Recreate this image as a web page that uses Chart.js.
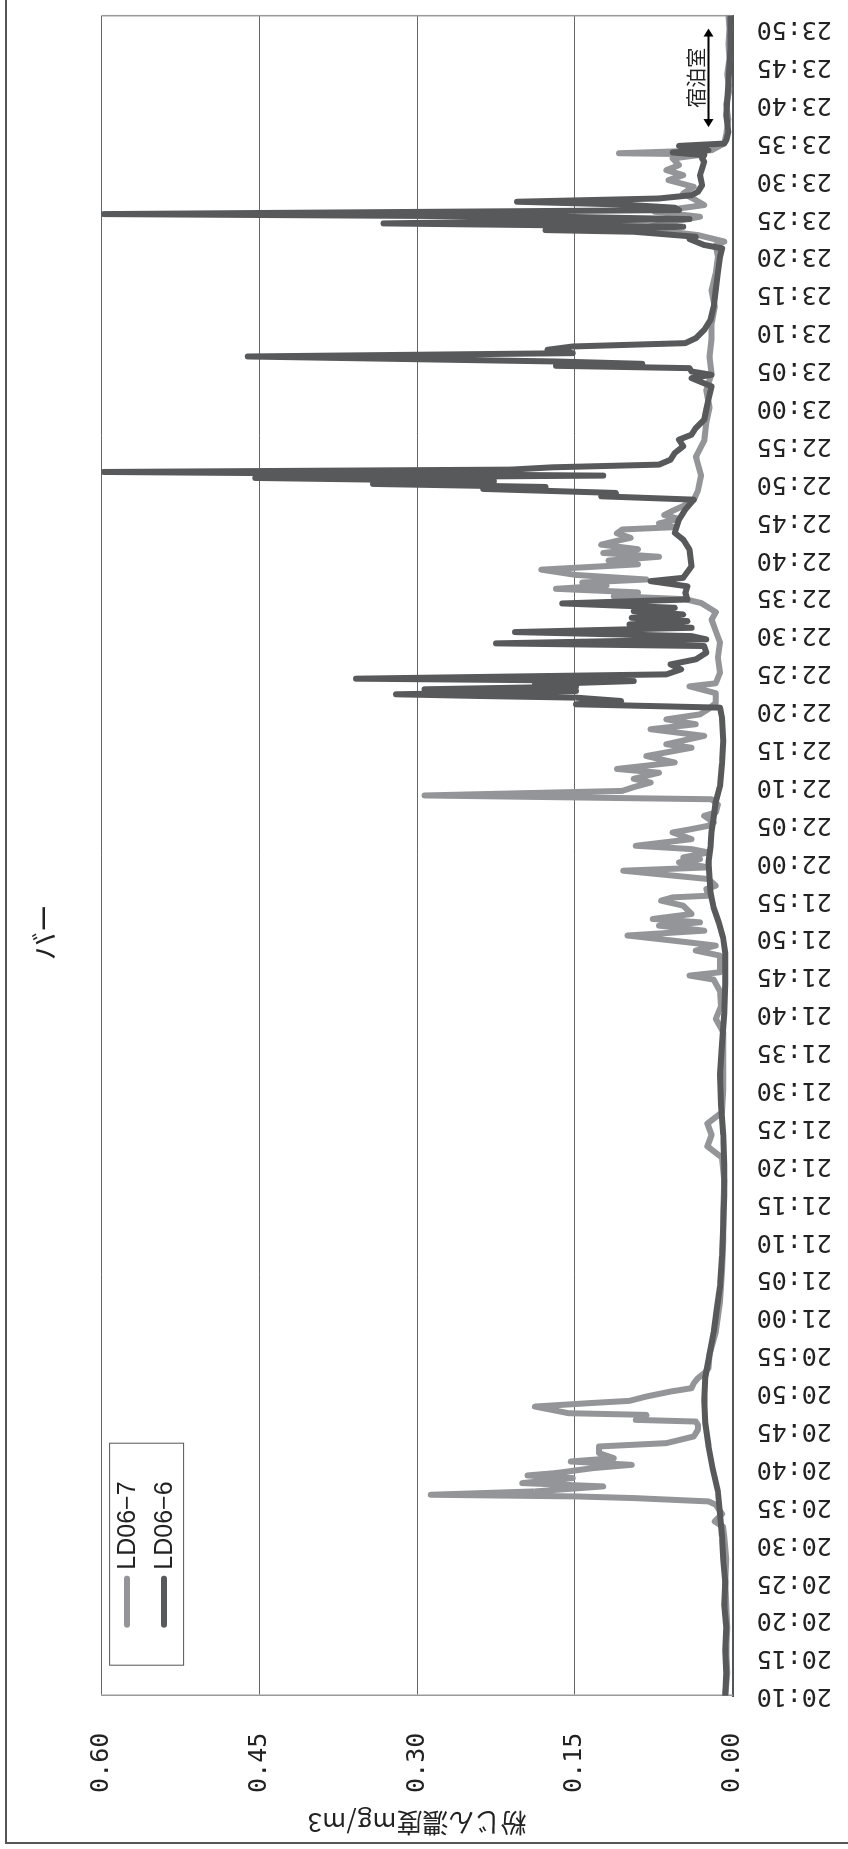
<!DOCTYPE html>
<html lang="ja">
<head>
<meta charset="utf-8">
<title>バー 粉じん濃度</title>
<script src="https://cdn.jsdelivr.net/npm/chart.js@4.4.1/dist/chart.umd.min.js"></script>
<style>
  html, body { margin: 0; padding: 0; overflow: hidden; background: #fff; }
  /* グラフ全体を左に90度回転して縦長で表示 */
  #wrap {
    position: absolute; left: 0; top: 0;
    width: 1849px; height: 848px;
    transform-origin: 0 0;
    transform: translate(0px, 1849px) rotate(-90deg);
  }
  canvas { display: block; }
</style>
</head>
<body>
<div id="wrap"><canvas id="chart" width="1849" height="848"></canvas></div>
<script>
// 横軸ラベル (5分ごと)
const timeLabels = ['20:10','20:15','20:20','20:25','20:30','20:35','20:40','20:45','20:50','20:55',
  '21:00','21:05','21:10','21:15','21:20','21:25','21:30','21:35','21:40','21:45','21:50','21:55',
  '22:00','22:05','22:10','22:15','22:20','22:25','22:30','22:35','22:40','22:45','22:50','22:55',
  '23:00','23:05','23:10','23:15','23:20','23:25','23:30','23:35','23:40','23:45','23:50'];
const axisEnd = 231.7; // 最終データ (20:00 からの分)
const valueTicks = [0, 0.15, 0.30, 0.45, 0.60];

const seriesNames = ['LD06\u22127', 'LD06\u22126'];

// LD06-7 : 20:00 からの経過分 と 濃度 mg/m3
const minutesLD067 = [10,13,16,19,22,25,28,31,32.3,33,34,35.2,35.64,36.08,36.3,36.52,36.96,37.62,38.06,38.72,
  39.07,39.38,40.03,40.47,40.91,41.35,42.01,42.89,43.33,44.21,45.09,45.74,46.18,46.4,47.06,47.28,47.72,48.16,
  48.6,48.91,49.48,50.14,50.58,51.23,51.89,52.55,53.21,55,58,62,66,70,74,78,81,82.5,84,85.5,87,90,94,97.6,
  99.3,101,103,104.5,105.03,105.47,107.67,108.33,108.99,109.43,110.32,110.96,111.62,112.06,112.5,113.16,
  114.26,114.92,115.35,115.57,116.45,116.89,117.77,118.87,119.31,119.97,120.41,120.62,121.28,121.72,122.16,
  123.04,123.92,124.36,124.8,125.24,126.11,126.55,127.6,128.3,128.8,129.4,129.9,130.5,131,131.8,132.3,133.15,
  134,135.1,135.56,136.66,137.54,138.2,138.85,139.5,140.2,141,142.3,143.2,143.6,145,147,149,150.5,152,153,
  154.2,154.7,155.1,155.6,156.07,156.5,156.9,157.3,157.9,158.6,159.3,159.8,160.3,160.8,161.3,161.9,162.4,
  162.8,163.4,163.9,164.2,164.7,165.3,165.8,166.3,167,167.8,169,171,173.5,175.6,178,180,182.3,184.5,186.7,
  189,191,193.3,195.5,197.7,199.9,201.4,201.9,202.75,203.63,204.29,205.17,205.83,206.71,207.37,208.24,209.12,
  210,210.66,211.32,211.98,212.86,213.4,213.55,213.95,214.83,216,218,220,222,224,226,228,230,231.7];
const valuesLD067 = [0.007,0.005,0.006,0.005,0.006,0.007,0.006,0.008,0.009,0.017,0.010,0.016,0.023,0.094,0.150,0.287,
  0.188,0.123,0.200,0.152,0.195,0.168,0.133,0.096,0.154,0.113,0.127,0.127,0.063,0.037,0.033,0.033,0.035,0.092,
  0.082,0.156,0.172,0.188,0.137,0.098,0.082,0.059,0.039,0.037,0.033,0.027,0.023,0.022,0.016,0.012,0.010,0.009,
  0.009,0.008,0.010,0.024,0.020,0.024,0.010,0.009,0.009,0.009,0.016,0.011,0.012,0.018,0.041,0.012,0.012,0.035,
  0.016,0.043,0.100,0.027,0.070,0.031,0.076,0.039,0.047,0.068,0.057,0.023,0.025,0.016,0.023,0.104,0.023,0.051,
  0.031,0.047,0.023,0.039,0.092,0.039,0.057,0.039,0.023,0.018,0.027,0.016,0.014,0.020,0.293,0.105,0.094,0.078,
  0.094,0.070,0.110,0.055,0.082,0.039,0.063,0.027,0.078,0.035,0.063,0.031,0.023,0.016,0.016,0.041,0.016,0.012,
  0.014,0.012,0.016,0.020,0.016,0.030,0.045,0.113,0.090,0.168,0.120,0.143,0.082,0.149,0.182,0.090,0.118,0.070,
  0.123,0.090,0.125,0.110,0.097,0.110,0.105,0.056,0.070,0.051,0.065,0.058,0.047,0.037,0.033,0.030,0.035,0.027,
  0.025,0.022,0.025,0.020,0.022,0.020,0.020,0.017,0.020,0.016,0.014,0.016,0.008,0.033,0.086,0.066,0.031,0.074,
  0.027,0.035,0.047,0.037,0.061,0.047,0.063,0.051,0.057,0.027,0.108,0.020,0.008,0.006,0.004,0.006,0.003,0.005,
  0.003,0.004,0.003,0.004];

// LD06-6 : 20:00 からの経過分 と 濃度 mg/m3
const minutesLD066 = [10,13,16,19,22,25,28,31,34,37,40,43,46,49,52,55,58,61,64,68,72,76,80,84,88,92,96,100,104,108,
  110,112,114,116,118,120,122,124,126,128,130,133,136,139,140.39,140.83,141.27,141.71,141.93,142.15,142.59,
  142.81,143.16,143.47,143.9,144.21,144.78,145.44,146.1,146.76,147.64,148.52,148.87,149.4,149.83,150.36,150.93,
  151.37,151.81,152.25,152.69,153.13,153.57,154.14,154.66,155.54,156.4,157.08,157.52,159.06,161.25,162.57,
  163.45,165.2,166.52,167.84,168.28,168.72,169.25,169.51,169.91,170.26,170.7,171.01,171.49,171.8,172.1,172.46,
  173.11,173.99,174.87,175.75,176.41,177.29,178.38,179.7,181.02,182.78,183.87,184.31,184.75,185.19,185.5,
  185.76,186.07,186.73,187.17,187.61,188.05,188.49,189.14,190.24,191.56,193.32,195.51,197.71,199.9,201,201.44,
  202.23,202.53,203.19,203.41,203.85,204.29,204.86,205.17,205.52,206.05,206.36,206.79,207.15,207.58,208.02,
  208.46,209.34,210.66,211.54,212.42,212.86,213.3,213.65,213.95,214.52,214.83,215.27,216.37,218.56,222.96,
  227.35,231.7];
const valuesLD066 = [0.007,0.006,0.007,0.006,0.008,0.007,0.009,0.010,0.012,0.014,0.019,0.023,0.026,0.027,0.026,0.022,
  0.018,0.015,0.012,0.010,0.009,0.008,0.008,0.009,0.011,0.012,0.010,0.008,0.007,0.007,0.009,0.013,0.018,0.021,
  0.022,0.023,0.021,0.020,0.018,0.016,0.012,0.010,0.009,0.010,0.012,0.149,0.106,0.149,0.242,0.320,0.149,0.293,
  0.149,0.188,0.094,0.358,0.063,0.049,0.059,0.035,0.025,0.027,0.225,0.025,0.039,0.207,0.039,0.098,0.043,0.096,
  0.047,0.094,0.055,0.162,0.043,0.045,0.043,0.078,0.047,0.039,0.041,0.047,0.055,0.051,0.045,0.037,0.125,0.111,
  0.237,0.178,0.342,0.227,0.454,0.123,0.598,0.211,0.172,0.070,0.059,0.055,0.047,0.051,0.039,0.035,0.027,0.025,
  0.023,0.020,0.039,0.020,0.039,0.041,0.168,0.086,0.168,0.461,0.152,0.176,0.152,0.045,0.035,0.027,0.021,0.018,
  0.016,0.014,0.012,0.010,0.027,0.041,0.035,0.094,0.178,0.047,0.332,0.041,0.165,0.598,0.051,0.055,0.106,0.205,
  0.070,0.039,0.033,0.029,0.031,0.029,0.027,0.029,0.027,0.057,0.023,0.051,0.008,0.006,0.004,0.006,0.004,0.002,
  0.002];

// 注記: 宿泊室 (矢印の範囲)
const roomLabel = '宿泊室';
const roomFrom = 217, roomTo = 230, roomLevel = 0.023;

const colorLD067 = '#939598';
const colorLD066 = '#58595b';

function toMinutes(label) {
  const [h, m] = label.split(':').map(Number);
  return (h - 20) * 60 + m;
}
function toLabel(v) {
  const h = 20 + Math.floor(v / 60);
  const m = Math.round(v % 60);
  return h + ':' + String(m).padStart(2, '0');
}
function points(ms, vs) {
  return ms.map((m, i) => ({ x: m, y: vs[i] }));
}

// 外枠・右枠・凡例・矢印
const decor = {
  id: 'decor',
  beforeDraw(chart) {
    const ctx = chart.ctx;
    ctx.save();
    ctx.fillStyle = '#fff';
    ctx.fillRect(0, 0, chart.width, chart.height);
    ctx.strokeStyle = '#555';
    ctx.lineWidth = 2;
    ctx.beginPath();
    ctx.moveTo(6, chart.height + 5);
    ctx.lineTo(6, 6);
    ctx.lineTo(chart.width + 5, 6);
    ctx.stroke();
    ctx.restore();
  },
  beforeDatasetsDraw(chart) {
    const a = chart.chartArea, ctx = chart.ctx;
    ctx.save();
    ctx.strokeStyle = '#999';
    ctx.lineWidth = 1.5;
    ctx.beginPath();
    ctx.moveTo(a.right, a.top);
    ctx.lineTo(a.right, a.bottom);
    ctx.stroke();
    ctx.restore();
  },
  afterDatasetsDraw(chart) {
    const a = chart.chartArea, ctx = chart.ctx;
    const xs = chart.scales.x, ys = chart.scales.y;
    ctx.save();

    // 凡例
    const bx = a.left + 30, by = a.top + 7.5, bw = 222, bh = 74;
    ctx.fillStyle = '#fff';
    ctx.fillRect(bx, by, bw, bh);
    ctx.strokeStyle = '#555';
    ctx.lineWidth = 1;
    ctx.strokeRect(bx + 0.5, by + 0.5, bw, bh);
    ctx.font = '25px "Liberation Sans", Arial, sans-serif';
    ctx.textBaseline = 'middle';
    ctx.textAlign = 'left';
    chart.data.datasets.forEach((ds, i) => {
      const yy = by + 18 + i * 37;
      ctx.strokeStyle = ds.borderColor;
      ctx.lineWidth = 6;
      ctx.lineCap = 'round';
      ctx.beginPath();
      ctx.moveTo(bx + 41, yy);
      ctx.lineTo(bx + 87, yy);
      ctx.stroke();
      ctx.fillStyle = '#222';
      ctx.fillText(ds.label, bx + 96, yy + 1);
    });

    // 宿泊室 矢印
    const x1 = xs.getPixelForValue(roomFrom), x2 = xs.getPixelForValue(roomTo);
    const yy = ys.getPixelForValue(roomLevel);
    ctx.strokeStyle = '#000';
    ctx.fillStyle = '#000';
    ctx.lineWidth = 2;
    ctx.lineCap = 'butt';
    ctx.beginPath();
    ctx.moveTo(x1 + 6, yy);
    ctx.lineTo(x2 - 6, yy);
    ctx.stroke();
    [[x1, 1], [x2, -1]].forEach(([px, d]) => {
      ctx.beginPath();
      ctx.moveTo(px, yy);
      ctx.lineTo(px + d * 8, yy - 5);
      ctx.lineTo(px + d * 8, yy + 5);
      ctx.closePath();
      ctx.fill();
    });
    ctx.font = '20px "Noto Sans CJK JP", sans-serif';
    ctx.textAlign = 'center';
    ctx.textBaseline = 'middle';
    ctx.fillStyle = '#222';
    ctx.fillText(roomLabel, (x1 + x2) / 2, yy - 12);
    ctx.restore();
  }
};

new Chart(document.getElementById('chart'), {
  type: 'line',
  data: {
    datasets: [
      {
        label: seriesNames[0],
        data: points(minutesLD067, valuesLD067),
        borderColor: colorLD067,
        order: 1
      },
      {
        label: seriesNames[1],
        data: points(minutesLD066, valuesLD066),
        borderColor: colorLD066,
        order: 0
      }
    ]
  },
  options: {
    responsive: false,
    animation: false,
    devicePixelRatio: 1,
    layout: { padding: { left: 0, right: 15.7, top: 0, bottom: 0 } },
    elements: {
      point: { radius: 0 },
      line: { borderWidth: 6, tension: 0, borderCapStyle: 'round', borderJoinStyle: 'round', fill: false }
    },
    plugins: {
      legend: { display: false },
      tooltip: { enabled: false },
      title: {
        display: true,
        text: 'バー',
        color: '#222',
        font: { family: '"Noto Sans CJK JP", sans-serif', size: 28, weight: 'normal' },
        padding: { top: 28, bottom: 40 }
      }
    },
    scales: {
      x: {
        type: 'linear',
        min: toMinutes(timeLabels[0]),
        max: axisEnd,
        afterBuildTicks: s => { s.ticks = timeLabels.map(l => ({ value: toMinutes(l) })); },
        afterFit: s => { s.height = 115.4; s.paddingLeft = 0; s.paddingRight = 0; },
        ticks: {
          autoSkip: false,
          minRotation: 90,
          maxRotation: 90,
          padding: 24,
          color: '#222',
          font: { family: '"DejaVu Sans Mono", monospace', size: 25 },
          callback: v => toLabel(v)
        },
        grid: { display: false, drawTicks: false },
        border: { display: true, color: '#555', width: 2 }
      },
      y: {
        min: 0,
        max: 0.6,
        afterBuildTicks: s => { s.ticks = valueTicks.map(v => ({ value: v })); },
        afterFit: s => { s.width = 153.3; },
        ticks: {
          padding: 37,
          color: '#222',
          font: { family: '"DejaVu Sans Mono", monospace', size: 25 },
          callback: v => v.toFixed(2)
        },
        grid: { color: '#666', lineWidth: 1, drawTicks: false },
        border: { display: true, color: '#999', width: 1.5 },
        title: {
          display: true,
          text: '粉じん濃度mg/m3',
          color: '#222',
          font: { family: '"Noto Sans CJK JP", sans-serif', size: 26 },
          padding: { top: 11, bottom: 0 }
        }
      }
    }
  },
  plugins: [decor]
});
</script>
</body>
</html>
